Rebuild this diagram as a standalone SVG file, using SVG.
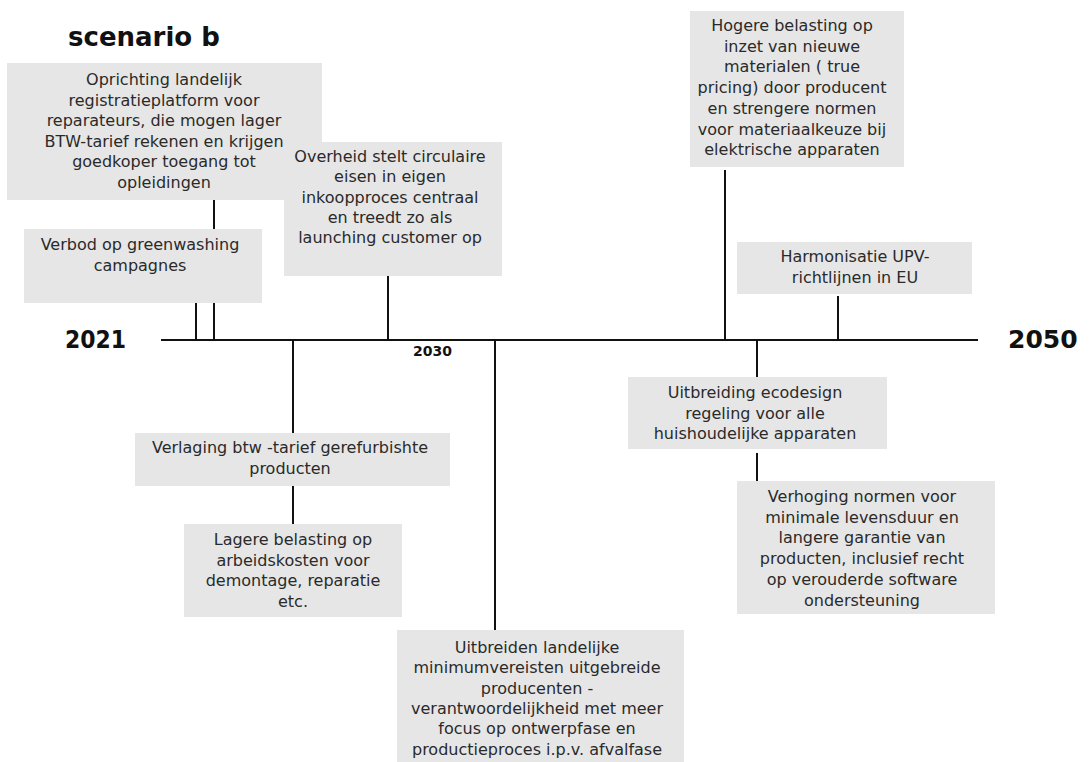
<svg xmlns="http://www.w3.org/2000/svg" width="1089" height="762" viewBox="0 0 1089 762">
<style>
.box{fill:#e6e6e6}
.t{font-family:"DejaVu Sans","Open Sans",sans-serif;font-size:16px;fill:#2a2a2a;text-anchor:middle}
.yr{font-family:"DejaVu Sans",sans-serif;font-weight:bold;fill:#111}
.ln{stroke:#111;stroke-width:2;fill:none}
</style>
<rect width="1089" height="762" fill="#fff"/>
<text x="68" y="46" class="yr" font-size="26">scenario b</text>
<g id="connectors">
<line class="ln" x1="161" y1="340" x2="978" y2="340"/>
<line class="ln" x1="196" y1="303" x2="196" y2="341"/>
<line class="ln" x1="214" y1="200" x2="214" y2="341"/>
<line class="ln" x1="293" y1="339" x2="293" y2="433"/>
<line class="ln" x1="293" y1="486" x2="293" y2="524"/>
<line class="ln" x1="388" y1="276" x2="388" y2="341"/>
<line class="ln" x1="495" y1="339" x2="495" y2="630"/>
<line class="ln" x1="725" y1="170" x2="725" y2="341"/>
<line class="ln" x1="838" y1="296" x2="838" y2="341"/>
<line class="ln" x1="757" y1="339" x2="757" y2="377"/>
<line class="ln" x1="757" y1="453" x2="757" y2="481"/>
</g>
<g id="y2021"><text x="65" y="348" class="yr" font-size="25" textLength="61" lengthAdjust="spacingAndGlyphs">2021</text></g>
<g id="y2030"><text x="413" y="356" class="yr" font-size="14">2030</text></g>
<g id="y2050"><text x="1008" y="348" class="yr" font-size="25">2050</text></g>
<g id="n1">
<rect class="box" x="7" y="63" width="315" height="137"/>
<text class="t"><tspan x="164" y="85">Oprichting landelijk</tspan><tspan x="164" y="105.6">registratieplatform voor</tspan><tspan x="164" y="126.2">reparateurs, die mogen lager</tspan><tspan x="164" y="146.8">BTW-tarief rekenen en krijgen</tspan><tspan x="164" y="167.4">goedkoper toegang tot</tspan><tspan x="164" y="188">opleidingen</tspan></text>
</g>
<g id="n2">
<rect class="box" x="24" y="229" width="238" height="74"/>
<text class="t"><tspan x="140" y="250">Verbod op greenwashing</tspan><tspan x="140" y="270.5">campagnes</tspan></text>
</g>
<g id="n3">
<rect class="box" x="284" y="142" width="218" height="134"/>
<text class="t"><tspan x="390" y="162">Overheid stelt circulaire</tspan><tspan x="390" y="182.3">eisen in eigen</tspan><tspan x="390" y="202.6">inkoopproces centraal</tspan><tspan x="390" y="223">en treedt zo als</tspan><tspan x="390" y="243">launching  customer op</tspan></text>
</g>
<g id="n4">
<rect class="box" x="690" y="11" width="214" height="156"/>
<text class="t"><tspan x="792" y="31">Hogere belasting op</tspan><tspan x="792" y="51.7">inzet van nieuwe</tspan><tspan x="792" y="72.4">materialen ( true</tspan><tspan x="792" y="93">pricing) door producent</tspan><tspan x="792" y="113.8">en strengere normen</tspan><tspan x="792" y="134.5">voor materiaalkeuze bij</tspan><tspan x="792" y="155">elektrische apparaten</tspan></text>
</g>
<g id="n5">
<rect class="box" x="737" y="242" width="235" height="52"/>
<text class="t"><tspan x="855" y="262">Harmonisatie UPV-</tspan><tspan x="855" y="282.5">richtlijnen in EU</tspan></text>
</g>
<g id="n6">
<rect class="box" x="135" y="433" width="315" height="53"/>
<text class="t"><tspan x="290" y="453">Verlaging btw -tarief gerefurbishte</tspan><tspan x="290" y="474">producten</tspan></text>
</g>
<g id="n7">
<rect class="box" x="184" y="524" width="218" height="93"/>
<text class="t"><tspan x="293" y="545">Lagere belasting op</tspan><tspan x="293" y="565.5">arbeidskosten voor</tspan><tspan x="293" y="586">demontage, reparatie</tspan><tspan x="293" y="606.5">etc.</tspan></text>
</g>
<g id="n8">
<rect class="box" x="397" y="630" width="287" height="132"/>
<text class="t"><tspan x="537" y="653">Uitbreiden landelijke</tspan><tspan x="537" y="673.3">minimumvereisten uitgebreide</tspan><tspan x="537" y="693.6">producenten -</tspan><tspan x="537" y="714">verantwoordelijkheid met meer</tspan><tspan x="537" y="734.3">focus op ontwerpfase en</tspan><tspan x="537" y="754.6">productieproces i.p.v. afvalfase</tspan></text>
</g>
<g id="n9">
<rect class="box" x="628" y="377" width="259" height="72"/>
<text class="t"><tspan x="755" y="398">Uitbreiding  ecodesign</tspan><tspan x="755" y="418.5">regeling voor alle</tspan><tspan x="755" y="439">huishoudelijke apparaten</tspan></text>
</g>
<g id="n10">
<rect class="box" x="737" y="481" width="258" height="133"/>
<text class="t"><tspan x="862" y="502">Verhoging normen voor</tspan><tspan x="862" y="522.7">minimale levensduur en</tspan><tspan x="862" y="543.4">langere garantie van</tspan><tspan x="862" y="564">producten, inclusief recht</tspan><tspan x="862" y="584.8">op verouderde software</tspan><tspan x="862" y="605.5">ondersteuning</tspan></text>
</g>
</svg>
